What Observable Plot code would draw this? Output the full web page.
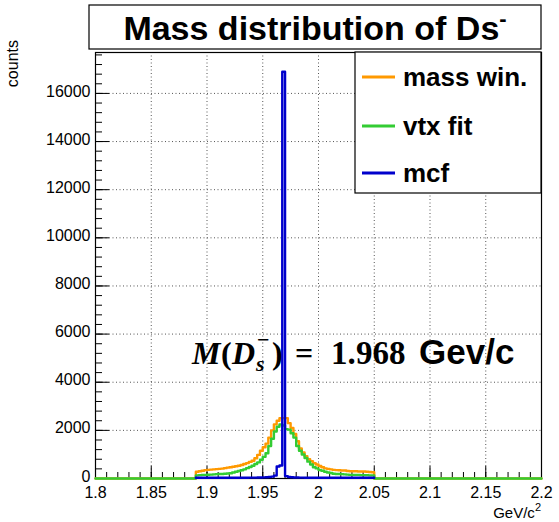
<!DOCTYPE html>
<html><head><meta charset="utf-8">
<script src="https://cdn.jsdelivr.net/npm/d3@7"></script>
<script src="https://cdn.jsdelivr.net/npm/@observablehq/plot@0.6"></script>
<style>body{margin:0;background:#fff}</style>
</head><body><div id="chart"></div>
<script>
// ---- data ----
const xRange = [1.8, 2.2];
const yMax = 17700;
const binStart = 1.89;   // first non-empty bin edge
const binWidth = 0.0025; // histogram bin width (GeV/c^2)
const massWin = [280,300,320,350,360,370,380,390,400,410,430,450,470,490,510,530,
  560,600,640,690,740,840,980,1150,1300,1450,1700,2000,2250,2400,2510,2510,
  2510,2300,2100,1850,1550,1250,1080,930,800,720,640,580,520,470,420,400,
  380,360,350,340,330,330,310,300,300,300,290,290,290,280,270,260];
const vtxFit = [130,140,150,150,155,160,170,180,185,190,200,210,220,250,280,310,
  340,380,430,480,530,600,670,780,900,1050,1350,1650,1950,2150,2250,2200,
  2050,2030,1880,1700,1350,1150,1000,850,700,580,470,420,350,320,280,250,
  230,200,190,190,180,170,160,150,150,150,150,140,140,140,130,130];
const mcf = [30,30,30,30,30,30,30,30,30,30,30,30,30,30,30,30,
  30,30,30,35,35,35,40,40,45,50,60,80,120,500,540,16900,
  100,60,50,40,40,35,35,30,30,30,30,30,30,30,30,30,
  30,30,30,30,30,30,30,30,30,30,30,30,30,30,30,30];
const seriesNames = ["mass win.", "vtx fit", "mcf"];
const seriesColors = ["#ff9900", "#33cc33", "#0000cc"];
const xTicks = [1.8, 1.85, 1.9, 1.95, 2.0, 2.05, 2.1, 2.15, 2.2];
const xTickLabels = ["1.8", "1.85", "1.9", "1.95", "2", "2.05", "2.1", "2.15", "2.2"];
const yTicks = [0, 2000, 4000, 6000, 8000, 10000, 12000, 14000, 16000];
const yTickLabels = ["0", "2000", "4000", "6000", "8000", "10000", "12000", "14000", "16000"];
const xMinorStep = 0.01;
const yMinorStep = 400;
const titleText = "Mass distribution of Ds";
const xLabel = "GeV/c";
const yLabel = "counts";

// ---- build step outlines (full histogram range, zero outside the window) ----
function stepPoints(vals, full) {
  const pts = [];
  if (full) pts.push({x: xRange[0], y: 0});
  vals.forEach((v, i) => pts.push({x: binStart + i * binWidth, y: v}));
  const end = binStart + vals.length * binWidth;
  pts.push({x: end, y: full ? 0 : vals[vals.length - 1]});
  if (full) pts.push({x: xRange[1], y: 0});
  return pts;
}
const series = [massWin, vtxFit, mcf];
const lines = series.map((vals, k) => stepPoints(vals, k < 2));

const xMinor = d3.range(Math.round((xRange[1] - xRange[0]) / xMinorStep) + 1).map(i => xRange[0] + i * xMinorStep);
const yMinor = d3.range(0, yMax, yMinorStep);

const W = 559, H = 522;
const mL = 95, mR = 18, mT = 52, mB = 44;
const fw = W - mL - mR, fh = H - mT - mB;
const font = "'Liberation Sans', Arial, Helvetica, sans-serif";

const plot = Plot.plot({
  width: W, height: H,
  marginLeft: mL, marginRight: mR, marginTop: mT, marginBottom: mB,
  x: {domain: xRange},
  y: {domain: [0, yMax]},
  style: {fontFamily: font, fontSize: "16px", background: "white", color: "black"},
  marks: [
    Plot.gridX(xTicks, {stroke: "#555", strokeOpacity: 1, strokeDasharray: "1,2.5", strokeWidth: 1}),
    Plot.gridY(yTicks, {stroke: "#555", strokeOpacity: 1, strokeDasharray: "1,2.5", strokeWidth: 1}),
    Plot.frame({stroke: "black", strokeWidth: 1.2}),
    // inward ticks
    Plot.ruleX(xMinor, {x: d => d, insetTop: fh - 6, stroke: "black"}),
    Plot.ruleX(xTicks, {x: d => d, insetTop: fh - 12, stroke: "black"}),
    Plot.ruleY(yMinor, {y: d => d, insetRight: fw - 7, stroke: "black"}),
    Plot.ruleY(yTicks, {y: d => d, insetRight: fw - 14, stroke: "black"}),
    ...lines.map((pts, k) => Plot.line(pts, {x: "x", y: "y", curve: "step-after",
      stroke: seriesColors[k], strokeWidth: 2.4})),
    Plot.axisX({ticks: xTicks, tickSize: 0, tickPadding: 8, label: null,
      tickFormat: d => xTickLabels[xTicks.indexOf(d)], fontSize: 16}),
    Plot.axisY({ticks: yTicks, tickSize: 0, tickPadding: 5, label: null,
      tickFormat: d => yTickLabels[yTicks.indexOf(d)], fontSize: 16, dy: -2})
  ]
});

document.getElementById("chart").appendChild(plot);
const svg = d3.select(plot);

// title box
svg.append("rect").attr("x", 89).attr("y", 5).attr("width", 452).attr("height", 44)
  .attr("fill", "white").attr("stroke", "black").attr("stroke-width", 1.2);
const t = svg.append("text").attr("x", 315).attr("y", 40).attr("text-anchor", "middle")
  .attr("font-family", font).attr("font-weight", "bold").attr("font-size", 34).attr("fill", "black");
t.append("tspan").text(titleText);
t.append("tspan").attr("dy", -14).attr("font-size", 22).text("-");

// legend box
svg.append("rect").attr("x", 355).attr("y", 52).attr("width", 186).attr("height", 141)
  .attr("fill", "white").attr("stroke", "black").attr("stroke-width", 1.2);
const legY = [77, 126, 173];
seriesNames.forEach((name, k) => {
  svg.append("line").attr("x1", 362).attr("x2", 395).attr("y1", legY[k]).attr("y2", legY[k])
    .attr("stroke", seriesColors[k]).attr("stroke-width", 3);
  svg.append("text").attr("x", 403).attr("y", legY[k] + 9).attr("text-anchor", "start")
    .attr("font-family", font).attr("font-weight", "bold").attr("font-size", 26)
    .attr("fill", "black").text(name);
});

// annotation M(D_s^-) = 1.968 Gev/c
const serif = "'Liberation Serif', 'DejaVu Serif', serif";
const ab = 364;
function piece(x, y, txt, opts) {
  svg.append("text").attr("x", x).attr("y", y).attr("text-anchor", "start")
    .attr("font-family", opts.family || serif)
    .attr("font-weight", "bold").attr("font-style", opts.italic ? "italic" : "normal")
    .attr("font-size", opts.size || 32).attr("fill", "black").text(txt);
}
piece(192, ab, "M", {italic: true});
piece(221, ab, "(", {});
piece(232, ab, "D", {italic: true});
piece(256, ab + 7, "s", {italic: true, size: 22});
piece(257, ab - 17, "\u2212", {size: 22});
piece(272, ab, ")", {});
piece(295, ab, "=", {});
piece(331, ab, "1.", {size: 33});
piece(356, ab, "968", {size: 33});
piece(419, ab, "Gev/c", {family: font, size: 35});

// axis titles
const xl = svg.append("text").attr("x", 541).attr("y", 518).attr("text-anchor", "end")
  .attr("font-family", font).attr("font-size", 15).attr("fill", "black");
xl.append("tspan").text(xLabel);
xl.append("tspan").attr("dy", -7).attr("font-size", 11).text("2");
svg.append("text").attr("transform", "translate(18,40) rotate(-90)").attr("text-anchor", "end")
  .attr("font-family", font).attr("font-size", 16).attr("fill", "black").text(yLabel);
</script>
</body></html>
